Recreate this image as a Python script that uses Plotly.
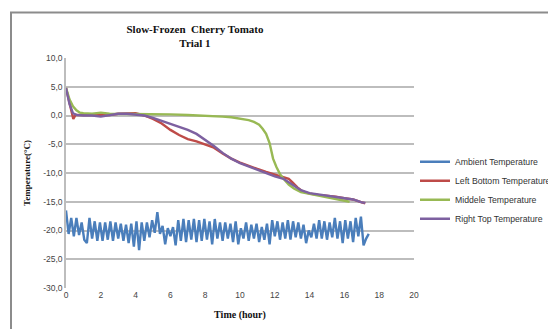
import plotly.graph_objects as go

# ---------------- data ----------------
amb_time = [0.00, 0.15, 0.30, 0.45, 0.60, 0.75, 0.90, 1.05, 1.20, 1.35, 1.50, 1.65, 1.80, 1.95,
            2.10, 2.25, 2.40, 2.55, 2.70, 2.85, 3.00, 3.15, 3.30, 3.45, 3.60, 3.75, 3.90, 4.05,
            4.20, 4.35, 4.50, 4.65, 4.80, 4.95, 5.10, 5.25, 5.40, 5.55, 5.70, 5.85, 6.00, 6.15,
            6.30, 6.45, 6.60, 6.75, 6.90, 7.05, 7.20, 7.35, 7.50, 7.65, 7.80, 7.95, 8.10, 8.25,
            8.40, 8.55, 8.70, 8.85, 9.00, 9.15, 9.30, 9.45, 9.60, 9.75, 9.90, 10.05, 10.20, 10.35,
            10.50, 10.65, 10.80, 10.95, 11.10, 11.25, 11.40, 11.55, 11.70, 11.85, 12.00, 12.15,
            12.30, 12.45, 12.60, 12.75, 12.90, 13.05, 13.20, 13.35, 13.50, 13.65, 13.80, 13.95,
            14.10, 14.25, 14.40, 14.55, 14.70, 14.85, 15.00, 15.15, 15.30, 15.45, 15.60, 15.75,
            15.90, 16.05, 16.20, 16.35, 16.50, 16.65, 16.80, 16.95, 17.10, 17.25, 17.40]
ambient = [-16.5, -20.6, -17.8, -21.0, -17.8, -20.8, -18.6, -21.6, -22.2, -17.8, -21.4, -18.4,
           -21.8, -18.6, -21.8, -18.6, -21.6, -18.4, -21.8, -18.6, -21.4, -18.8, -21.8, -19.0,
           -22.2, -18.8, -22.8, -18.4, -23.4, -18.6, -21.8, -18.6, -21.2, -18.2, -20.4, -16.8,
           -20.6, -19.2, -22.4, -19.6, -21.0, -19.4, -22.6, -18.2, -21.8, -18.0, -22.0, -18.2,
           -21.6, -18.0, -22.0, -18.2, -21.8, -18.0, -21.6, -18.4, -22.4, -18.0, -21.4, -18.6,
           -21.8, -18.6, -21.4, -18.8, -22.0, -18.4, -22.4, -19.6, -21.4, -18.6, -21.8, -19.0,
           -21.4, -18.8, -22.0, -19.4, -21.6, -18.8, -22.4, -18.2, -21.0, -18.4, -21.6, -18.6,
           -21.4, -18.2, -21.6, -18.4, -21.2, -18.6, -21.4, -19.0, -22.2, -20.0, -21.2, -18.8,
           -21.4, -18.2, -21.4, -18.4, -21.6, -18.6, -21.2, -17.8, -21.4, -18.4, -22.2, -18.2,
           -21.4, -18.4, -22.0, -17.8, -21.0, -17.6, -22.6, -21.4, -20.6]

lb_time = [0.0, 0.2, 0.35, 0.42, 0.55, 1.0, 1.5, 2.0, 2.5, 3.0, 3.5, 4.0, 4.5, 5.0, 5.5, 6.0,
           6.5, 7.0, 7.5, 8.0, 8.5, 9.0, 9.5, 10.0, 10.5, 11.0, 11.5, 12.0, 12.5, 12.8, 13.0,
           13.3, 13.6, 14.0, 14.5, 15.0, 15.5, 16.0, 16.5, 17.0, 17.2]
left_bottom = [4.8, 2.4, 0.3, -0.6, 0.1, 0.1, 0.0, 0.0, 0.1, 0.3, 0.4, 0.4, 0.0, -0.6, -1.4,
               -2.5, -3.4, -4.1, -4.5, -5.0, -5.6, -6.6, -7.5, -8.2, -8.8, -9.3, -9.8, -10.3,
               -10.8, -11.0, -11.6, -12.5, -13.2, -13.6, -13.8, -13.9, -14.1, -14.4, -14.6,
               -15.1, -15.3]

mid_time = [0.0, 0.2, 0.4, 0.6, 0.8, 1.0, 1.5, 2.0, 2.5, 3.0, 4.0, 5.0, 6.0, 7.0, 8.0, 9.0,
            9.5, 10.0, 10.5, 10.8, 11.1, 11.3, 11.5, 11.7, 11.8, 11.9, 12.1, 12.3, 12.5, 12.8,
            13.1, 13.5, 14.0, 14.5, 15.0, 15.5, 16.0, 16.3]
middle = [4.8, 2.8, 1.6, 0.9, 0.5, 0.4, 0.3, 0.5, 0.3, 0.3, 0.3, 0.3, 0.2, 0.1, 0.0, -0.2,
          -0.3, -0.5, -0.8, -1.1, -1.6, -2.3, -3.2, -4.8, -6.2, -7.5, -9.0, -10.2, -11.0,
          -12.0, -12.7, -13.3, -13.6, -13.9, -14.3, -14.5, -14.8, -15.0]

rt_time = [0.0, 0.2, 0.4, 0.6, 1.0, 1.5, 2.0, 2.5, 3.0, 3.5, 4.0, 4.5, 5.0, 5.5, 6.0, 6.5,
           7.0, 7.5, 8.0, 8.5, 9.0, 9.5, 10.0, 10.5, 11.0, 11.5, 12.0, 12.5, 13.0, 13.5, 14.0,
           14.5, 15.0, 15.5, 16.0, 16.5, 17.0, 17.2]
right_top = [4.8, 2.0, 0.4, 0.1, 0.0, 0.0, -0.2, 0.0, 0.3, 0.3, 0.2, 0.0, -0.4, -0.9, -1.4,
             -2.0, -2.5, -3.2, -4.2, -5.3, -6.5, -7.5, -8.3, -8.9, -9.5, -10.0, -10.6, -11.0,
             -12.0, -13.0, -13.5, -13.7, -13.9, -14.1, -14.3, -14.6, -15.1, -15.2]

series_names = ["Ambient Temperature", "Left Bottom Temperature",
                "Middele Temperature", "Right Top Temperature"]
series_colors = ["#4A7EBB", "#BE4B48", "#98B954", "#7D60A0"]

y_tick_vals = [10, 5, 0, -5, -10, -15, -20, -25, -30]
y_tick_text = ["10,0", "5,0", "0,0", "-5,0", "-10,0", "-15,0", "-20,0", "-25,0", "-30,0"]
x_tick_vals = [0, 2, 4, 6, 8, 10, 12, 14, 16, 18, 20]

# ---------------- figure ----------------
fig = go.Figure()
for (xs, ys), name, col in zip([(amb_time, ambient), (lb_time, left_bottom),
                                 (mid_time, middle), (rt_time, right_top)],
                                series_names, series_colors):
    fig.add_trace(go.Scatter(x=xs, y=ys, mode="lines", name=name,
                             line=dict(color=col, width=2.4)))

OFF = 8  # page body margin
W, H = 556 - OFF, 329 - OFF
L, R, T, B = 66 - OFF, 414 - OFF, 57.5 - OFF, 288 - OFF
fig.update_layout(
    width=W, height=H,
    margin=dict(l=L, r=W - R, t=T, b=H - B, pad=0, autoexpand=False),
    paper_bgcolor="white", plot_bgcolor="white",
    showlegend=True,
    title=dict(text="<b>Slow-Frozen  Cherry Tomato<br>Trial 1</b>",
               x=(195 - OFF) / W, xanchor="center", y=1 - (32.5 - OFF) / H, yanchor="middle",
               font=dict(family="Liberation Serif", size=11, color="#111111")),
    legend=dict(x=(415 - OFF - L) / (R - L), xanchor="left",
                y=(B - (147 - OFF)) / (B - T), yanchor="top",
                font=dict(family="Liberation Sans", size=8.7, color="#333333"),
                bgcolor="rgba(0,0,0,0)", itemwidth=30, tracegroupgap=0),
    xaxis=dict(range=[0, 20], tickvals=x_tick_vals, showgrid=False, zeroline=False,
               showline=False, ticks="",
               tickfont=dict(family="Liberation Sans", size=8.5, color="#444444"),
               title=dict(text="<b>Time (hour)</b>", standoff=12,
                          font=dict(family="Liberation Serif", size=10, color="#111111"))),
    yaxis=dict(range=[-30, 10], tickvals=y_tick_vals, ticktext=y_tick_text,
               showgrid=True, gridcolor="#BDBDBD", gridwidth=1.5, zeroline=False,
               showline=True, linecolor="#BDBDBD", linewidth=1.5, ticks="",
               tickfont=dict(family="Liberation Sans", size=8.5, color="#444444"),
               title=dict(text="<b>Temperature(°C)</b>", standoff=11,
                          font=dict(family="Liberation Serif", size=9, color="#111111"))),
    shapes=[dict(type="rect", xref="paper", yref="paper",
                 x0=(11 - OFF - L) / (R - L), x1=1.6, y0=-0.4,
                 y1=(B - (12 - OFF)) / (B - T),
                 line=dict(color="#8C8C8C", width=2), fillcolor="rgba(0,0,0,0)",
                 layer="below")],
)

fig.write_html("out.html")
